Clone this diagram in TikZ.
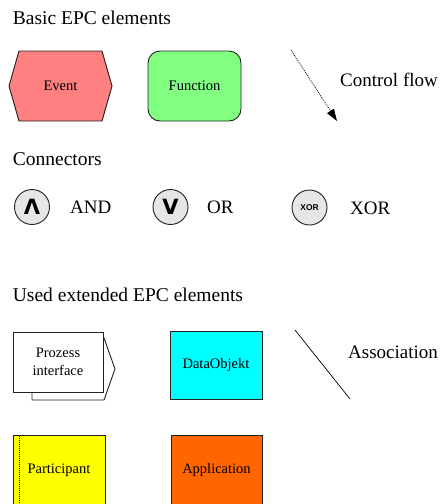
\documentclass[tikz,border=0pt]{standalone}
\usepackage{fontspec}
\setmainfont{Liberation Serif}
\newfontfamily\arialb{Liberation Sans}
\newfontfamily\djv{DejaVu Sans}
\usetikzlibrary{arrows.meta}
\definecolor{evfill}{HTML}{FF8080}
\definecolor{fnfill}{HTML}{80FF80}
\definecolor{cnfill}{HTML}{E6E6E6}
\definecolor{dofill}{HTML}{00FFFF}
\definecolor{ptfill}{HTML}{FFFF00}
\definecolor{apfill}{HTML}{FF6600}
\definecolor{edge}{HTML}{222222}
\tikzset{
  title/.style={anchor=base west, inner sep=0pt, font=\fontsize{19.5}{22}\selectfont},
  lab/.style={anchor=base west, inner sep=0pt, font=\fontsize{19}{22}\selectfont},
  intext/.style={inner sep=0pt, font=\fontsize{14.5}{18}\selectfont, align=center},
  shp/.style={draw=edge, line width=0.9pt},
  conn/.style={circle, draw=edge, line width=0.9pt, fill=cnfill, minimum size=35pt, inner sep=0pt},
  connsym/.style={font=\djv\bfseries\fontsize{21}{21}\selectfont},
}
\begin{document}
\begin{tikzpicture}[x=1pt,y=-1pt]
\clip (0,0) rectangle (440,504);
\fill[white] (0,0) rectangle (440,504);
% titles
\node[title] (t1) at (12.7,24.5) {Basic EPC elements};
\node[title] (t2) at (12.7,165.5) {Connectors};
\node[title] (t3) at (12.7,301) {Used extended EPC elements};
% event
\draw[shp, fill=evfill] (9,86) -- (19,51) -- (102,51) -- (112,86) -- (102,121) -- (19,121) -- cycle;
\node[intext] (event) at (60.5,86) {Event};
% function
\node[shp, fill=fnfill, rounded corners=12pt, minimum width=93pt, minimum height=70pt, inner sep=0pt, font=\fontsize{14.5}{18}\selectfont] (func) at (194.5,86) {Function};
% control flow
\coordinate (cfa) at (291,50);
\coordinate (cfb) at (337,121);
\draw[line width=0.7pt, dash pattern=on 1pt off 1pt, -{Triangle[length=12pt,width=8pt]}] (cfa) -- (cfb);
\node[lab] (cflab) at (340,86) {Control flow};
% connectors
\node[conn, connsym] (and) at (32,207) {Λ};
\node[lab] (andlab) at (70,213) {AND};
\node[conn, connsym] (or) at (170.5,207) {V};
\node[lab] (orlab) at (207,213) {OR};
\node[conn, font=\arialb\bfseries\fontsize{8.4}{9}\selectfont] (xor) at (309.5,207.5) {XOR};
\node[lab] (xorlab) at (350,214.5) {XOR};
% process interface
\draw[shp, fill=white] (32,338) -- (104,338) -- (115,369) -- (104,400) -- (32,400) -- cycle;
\draw[shp, fill=white] (13,332) rectangle (103,392);
\node[intext] (pi) at (58,362) {Prozess\\interface};
% data object
\node[shp, fill=dofill, minimum width=92pt, minimum height=68pt, inner sep=0pt, font=\fontsize{14.5}{18}\selectfont] (dobj) at (216,365) {DataObjekt};
% association
\coordinate (asa) at (295,330);
\coordinate (asb) at (350,399);
\draw[line width=0.7pt] (asa) -- (asb);
\node[lab] (aslab) at (348,358) {Association};
% participant
\draw[shp, fill=ptfill] (13,435) rectangle (105,520);
\draw[line width=0.8pt, dash pattern=on 1pt off 1pt] (19,436) -- (19,520);
\node[intext] (part) at (59,470) {Participant};
% application
\draw[shp, fill=apfill] (171,435) rectangle (262,520);
\node[intext] (app) at (216.5,470) {Application};
\end{tikzpicture}
\end{document}
